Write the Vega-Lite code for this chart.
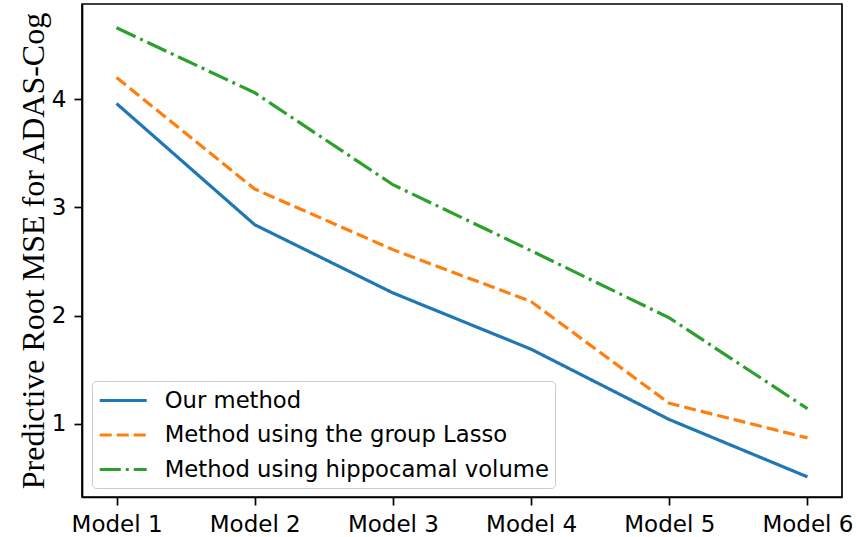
{
  "$schema": "https://vega.github.io/schema/vega-lite/v6.json",
  "width": 760,
  "height": 493,
  "autosize": {"type": "none"},
  "padding": {"left": 82, "top": 4, "right": 14, "bottom": 40},
  "background": "white",
  "config": {
    "view": {"stroke": "black", "strokeWidth": 1.7},
    "font": "DejaVu Sans",
    "axis": {
      "domainColor": "black", "domainWidth": 1.7,
      "tickColor": "black", "tickWidth": 1.7, "tickSize": 8,
      "labelFont": "DejaVu Sans", "labelFontSize": 23, "labelColor": "black",
      "labelPadding": 8, "grid": false
    }
  },
  "data": {"values": [
    {"model": "Model 1", "method": "Our method", "rmse": 3.96},
    {"model": "Model 2", "method": "Our method", "rmse": 2.84},
    {"model": "Model 3", "method": "Our method", "rmse": 2.21},
    {"model": "Model 4", "method": "Our method", "rmse": 1.69},
    {"model": "Model 5", "method": "Our method", "rmse": 1.04},
    {"model": "Model 6", "method": "Our method", "rmse": 0.51},
    {"model": "Model 1", "method": "Method using the group Lasso", "rmse": 4.20},
    {"model": "Model 2", "method": "Method using the group Lasso", "rmse": 3.17},
    {"model": "Model 3", "method": "Method using the group Lasso", "rmse": 2.61},
    {"model": "Model 4", "method": "Method using the group Lasso", "rmse": 2.13},
    {"model": "Model 5", "method": "Method using the group Lasso", "rmse": 1.19},
    {"model": "Model 6", "method": "Method using the group Lasso", "rmse": 0.87},
    {"model": "Model 1", "method": "Method using hippocamal volume", "rmse": 4.66},
    {"model": "Model 2", "method": "Method using hippocamal volume", "rmse": 4.06},
    {"model": "Model 3", "method": "Method using hippocamal volume", "rmse": 3.21},
    {"model": "Model 4", "method": "Method using hippocamal volume", "rmse": 2.60},
    {"model": "Model 5", "method": "Method using hippocamal volume", "rmse": 1.98},
    {"model": "Model 6", "method": "Method using hippocamal volume", "rmse": 1.14}
  ]},
  "mark": {"type": "line", "strokeWidth": 3.2, "strokeCap": "butt"},
  "encoding": {
    "x": {
      "field": "model", "type": "ordinal",
      "scale": {"type": "point", "padding": 0.25},
      "axis": {"title": null, "labelAngle": 0}
    },
    "y": {
      "field": "rmse", "type": "quantitative",
      "scale": {"domain": [0.324, 4.88], "nice": false, "zero": false},
      "axis": {
        "values": [1, 2, 3, 4], "format": "d",
        "title": "Predictive Root MSE for ADAS-Cog",
        "titleFont": "Liberation Serif", "titleFontSize": 32, "titleFontWeight": "normal",
        "titleColor": "black", "titlePadding": 1
      }
    },
    "color": {
      "field": "method", "type": "nominal",
      "scale": {
        "domain": ["Our method", "Method using the group Lasso", "Method using hippocamal volume"],
        "range": ["#1f77b4", "#ff7f0e", "#2ca02c"]
      },
      "legend": {
        "title": null, "orient": "none", "legendX": 10, "legendY": 377,
        "symbolType": "M-2,0H2", "symbolSize": 552, "symbolStrokeWidth": 3.2,
        "symbolOffset": 11.75,
        "labelFont": "DejaVu Sans", "labelFontSize": 22.7, "labelColor": "black",
        "labelOffset": 28, "rowPadding": 8.5, "padding": 6,
        "fillColor": "rgba(255,255,255,0.8)", "strokeColor": "#cccccc", "cornerRadius": 4,
        "labelLimit": 600
      }
    },
    "strokeDash": {
      "field": "method", "type": "nominal",
      "scale": {
        "domain": ["Our method", "Method using the group Lasso", "Method using hippocamal volume"],
        "range": [[1, 0], [12, 5], [21, 5, 3, 5]]
      },
      "legend": null
    }
  }
}
